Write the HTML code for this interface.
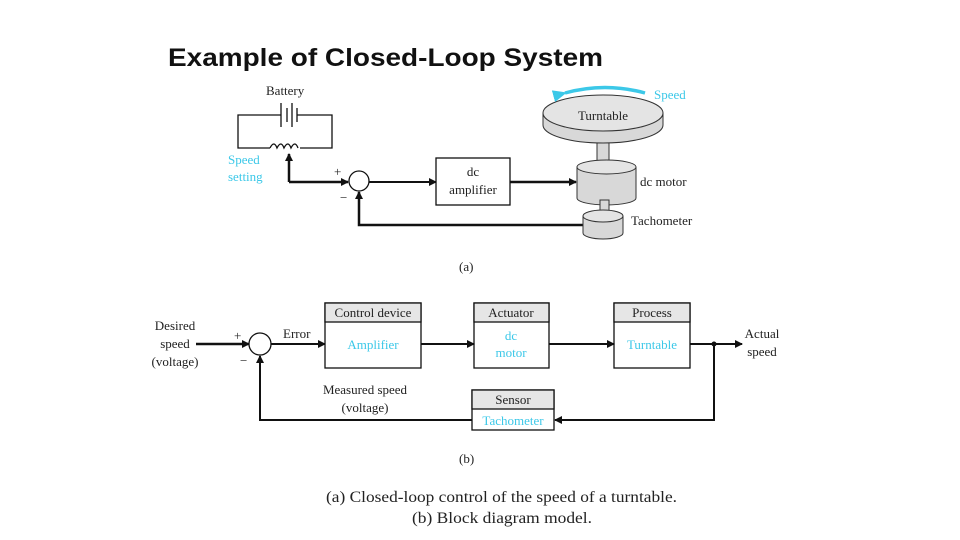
<!DOCTYPE html>
<html><head><meta charset="utf-8"><style>
body{margin:0;background:#fff;width:960px;height:540px;overflow:hidden}
svg{display:block}
.t{font-family:"Liberation Serif",serif;font-size:13px;fill:#222}
.c{font-family:"Liberation Serif",serif;font-size:13px;fill:#3cc8e8}
</style></head><body>
<svg width="960" height="540" viewBox="0 0 960 540">
<defs><marker id="a" markerWidth="8" markerHeight="8" refX="7" refY="4" orient="auto" markerUnits="userSpaceOnUse"><path d="M0,0 L8,4 L0,8z" fill="#111"/></marker>
<marker id="ac" markerWidth="14" markerHeight="12" refX="2" refY="6" orient="auto" markerUnits="userSpaceOnUse"><path d="M14,0 L0,6 L14,12z" fill="#3cc8e8"/></marker></defs>
<text x="168" y="66" font-family="Liberation Sans,sans-serif" font-weight="bold" font-size="25" fill="#111" textLength="435" lengthAdjust="spacingAndGlyphs">Example of Closed-Loop System</text>

<!-- (a) -->
<text class="t" x="266" y="95">Battery</text>
<g stroke="#111" stroke-width="1.3" fill="none">
<path d="M281,115 H238 V148 H270 M300,148 H332 V115 H297"/>
<path d="M281,103 V127 M287,108 V122 M292,103 V127 M297,108 V122"/>
<path d="M270,148 q4,-8 7,0 q4,-8 7,0 q4,-8 7,0 q4,-8 7,0"/>
</g>
<path d="M289,182 V154" stroke="#111" stroke-width="2.5" marker-end="url(#a)"/>
<text class="c" x="228" y="164">Speed</text><text class="c" x="228" y="181">setting</text>
<path d="M289,182 H348" stroke="#111" stroke-width="2.5" marker-end="url(#a)"/>
<circle cx="359" cy="181" r="10" fill="#fff" stroke="#111" stroke-width="1.3"/>
<text class="t" x="334" y="176">+</text><text class="t" x="340" y="202">−</text>
<path d="M369,182 H436" stroke="#111" stroke-width="2" marker-end="url(#a)"/>
<rect x="436" y="158" width="74" height="47" fill="#fff" stroke="#111" stroke-width="1.3"/>
<text class="t" x="473" y="176" text-anchor="middle">dc</text><text class="t" x="473" y="194" text-anchor="middle">amplifier</text>
<path d="M510,182 H576" stroke="#111" stroke-width="2.5" marker-end="url(#a)"/>
<path d="M583,225 H359 V192" stroke="#111" stroke-width="2.5" fill="none" marker-end="url(#a)"/>
<!-- motor -->
<g stroke="#333" stroke-width="1" fill="#d8d8d8">
<rect x="597" y="133" width="12" height="34"/>
<path d="M577,167 V198 A29.5,7 0 0 0 636,198 V167z"/>
<ellipse cx="606.5" cy="167" rx="29.5" ry="7" fill="#e4e4e4"/>
<rect x="600" y="200" width="9" height="14"/>
<path d="M583,216 V233 A20,6 0 0 0 623,233 V216z"/>
<ellipse cx="603" cy="216" rx="20" ry="6" fill="#e4e4e4"/>
<path d="M543,113 V125 A60,18 0 0 0 663,125 V113z"/>
<ellipse cx="603" cy="113" rx="60" ry="18" fill="#e4e4e4"/>
</g>
<path d="M645,93 Q605,82 565,93" stroke="#3cc8e8" stroke-width="3.5" fill="none" marker-end="url(#ac)"/>
<text class="c" x="654" y="99">Speed</text>
<text class="t" x="603" y="120" text-anchor="middle">Turntable</text>
<text class="t" x="640" y="186">dc motor</text>
<text class="t" x="631" y="225">Tachometer</text>
<text class="t" x="459" y="271">(a)</text>

<!-- (b) -->
<text class="t" x="175" y="330" text-anchor="middle">Desired</text>
<text class="t" x="175" y="348" text-anchor="middle">speed</text>
<text class="t" x="175" y="366" text-anchor="middle">(voltage)</text>
<path d="M196,344 H249" stroke="#111" stroke-width="2.5" marker-end="url(#a)"/>
<circle cx="260" cy="344" r="11" fill="#fff" stroke="#111" stroke-width="1.3"/>
<text class="t" x="234" y="340">+</text><text class="t" x="240" y="365">−</text>
<text class="t" x="283" y="338">Error</text>
<path d="M271,344 H325" stroke="#111" stroke-width="2" marker-end="url(#a)"/>
<g stroke="#111" stroke-width="1.3">
<rect x="325" y="303" width="96" height="65" fill="#fff"/><rect x="325" y="303" width="96" height="19" fill="#e6e6e6"/>
<rect x="474" y="303" width="75" height="65" fill="#fff"/><rect x="474" y="303" width="75" height="19" fill="#e6e6e6"/>
<rect x="614" y="303" width="76" height="65" fill="#fff"/><rect x="614" y="303" width="76" height="19" fill="#e6e6e6"/>
<rect x="472" y="390" width="82" height="40" fill="#fff"/><rect x="472" y="390" width="82" height="19" fill="#e6e6e6"/>
</g>
<text class="t" x="373" y="317" text-anchor="middle">Control device</text>
<text class="c" x="373" y="349" text-anchor="middle">Amplifier</text>
<text class="t" x="511" y="317" text-anchor="middle">Actuator</text>
<text class="c" x="511" y="340" text-anchor="middle">dc</text><text class="c" x="511" y="357" text-anchor="middle">motor</text>
<text class="t" x="652" y="317" text-anchor="middle">Process</text>
<text class="c" x="652" y="349" text-anchor="middle">Turntable</text>
<text class="t" x="513" y="404" text-anchor="middle">Sensor</text>
<text class="c" x="513" y="425" text-anchor="middle">Tachometer</text>
<path d="M421,344 H474" stroke="#111" stroke-width="2" marker-end="url(#a)"/>
<path d="M549,344 H614" stroke="#111" stroke-width="2" marker-end="url(#a)"/>
<path d="M690,344 H742" stroke="#111" stroke-width="2" marker-end="url(#a)"/>
<circle cx="714" cy="344" r="2.5" fill="#111"/>
<path d="M714,344 V420 H555" stroke="#111" stroke-width="2" fill="none" marker-end="url(#a)"/>
<path d="M472,420 H260 V356" stroke="#111" stroke-width="2" fill="none" marker-end="url(#a)"/>
<text class="t" x="762" y="338" text-anchor="middle">Actual</text><text class="t" x="762" y="356" text-anchor="middle">speed</text>
<text class="t" x="365" y="394" text-anchor="middle">Measured speed</text><text class="t" x="365" y="412" text-anchor="middle">(voltage)</text>
<text class="t" x="459" y="463">(b)</text>
<text x="326" y="502" font-family="Liberation Serif,serif" font-size="16" fill="#222" textLength="351" lengthAdjust="spacingAndGlyphs">(a) Closed-loop control of the speed of a turntable.</text>
<text x="412" y="523" font-family="Liberation Serif,serif" font-size="16" fill="#222" textLength="180" lengthAdjust="spacingAndGlyphs">(b) Block diagram model.</text>
</svg>
</body></html>
